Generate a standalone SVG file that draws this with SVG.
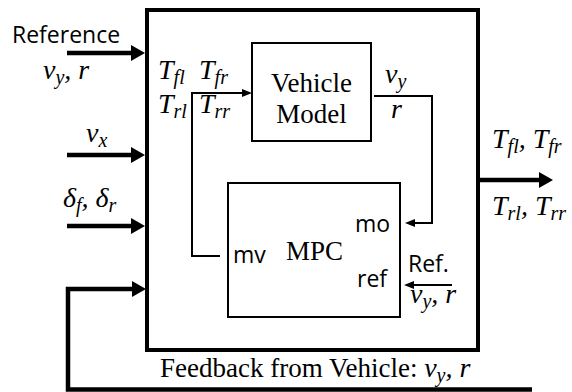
<svg xmlns="http://www.w3.org/2000/svg" width="572" height="392" viewBox="0 0 572 392">
  <defs>
    <style>
      .box { fill: #fff; stroke: #000; }
      .thick { fill: none; stroke: #000; stroke-width: 4.5; }
      .thin { fill: none; stroke: #000; stroke-width: 2; }
      .sans { font-family: "Open Sans", "Liberation Sans", sans-serif; font-size: 23px; fill: #000; }
      .serif { font-family: "Liberation Serif", "Times New Roman", serif; font-size: 27px; fill: #000; }
      .math { font-family: "Liberation Serif", "Times New Roman", serif; font-style: italic; font-size: 28px; fill: #000; }
      .sub { font-size: 20px; }
    </style>
    <marker id="headBig" viewBox="0 0 14 16" refX="1" refY="8" markerWidth="14" markerHeight="16" markerUnits="userSpaceOnUse" orient="auto">
      <path d="M0,0 L14,8 L0,16 z" fill="#000"/>
    </marker>
    <marker id="headSmall" viewBox="0 0 10 8" refX="1" refY="4" markerWidth="10" markerHeight="8" markerUnits="userSpaceOnUse" orient="auto">
      <path d="M0,0 L10,4 L0,8 z" fill="#000"/>
    </marker>
  </defs>

  <!-- controller block -->
  <g id="controller">
    <rect class="box" x="147" y="10" width="331" height="340" stroke-width="4"/>
  </g>

  <!-- vehicle model -->
  <g id="vehicle-model">
    <rect class="box" x="252" y="43" width="119" height="98" stroke-width="2"/>
    <text class="serif" x="311.5" y="92" text-anchor="middle">Vehicle</text>
    <text class="serif" x="311.5" y="123" text-anchor="middle">Model</text>
  </g>

  <!-- MPC block -->
  <g id="mpc">
    <rect class="box" x="228" y="183" width="172" height="134" stroke-width="2"/>
    <text class="serif" x="286" y="260">MPC</text>
    <text class="sans" x="233" y="263">mv</text>
    <text class="sans" x="355" y="232">mo</text>
    <text class="sans" x="357" y="287">ref</text>
  </g>

  <!-- connectors -->
  <g id="connectors">
    <path class="thick" d="M67,53 H132" marker-end="url(#headBig)"/>
    <path class="thick" d="M67,155 H132" marker-end="url(#headBig)"/>
    <path class="thick" d="M67,226 H132" marker-end="url(#headBig)"/>
    <path class="thick" d="M532,389.5 H68 V289 H133" marker-end="url(#headBig)"/>
    <path class="thick" d="M480,180 H540" marker-end="url(#headBig)"/>
    <path class="thin" d="M220,256 H192 V93 H243" marker-end="url(#headSmall)"/>
    <path class="thin" d="M374,96 H432 V223 H414" marker-end="url(#headSmall)"/>
    <path class="thin" d="M452,285 H413" marker-end="url(#headSmall)"/>
  </g>

  <!-- signal labels -->
  <g id="labels">
    <text class="sans" x="12" y="43" font-size="24">Reference</text>
    <text class="math" x="43" y="79">v<tspan class="sub" dy="5">y</tspan><tspan dy="-5">, r</tspan></text>
    <text class="math" x="86" y="142">v<tspan class="sub" dy="5">x</tspan></text>
    <text class="math" x="63" y="207">δ<tspan class="sub" dy="5">f</tspan><tspan dy="-5">, δ</tspan><tspan class="sub" dy="5">r</tspan></text>

    <text class="math" x="158" y="79">T<tspan class="sub" dy="5">fl</tspan></text>
    <text class="math" x="199" y="79">T<tspan class="sub" dy="5">fr</tspan></text>
    <text class="math" x="158" y="113">T<tspan class="sub" dy="5">rl</tspan></text>
    <text class="math" x="199" y="113">T<tspan class="sub" dy="5">rr</tspan></text>

    <text class="math" x="385" y="83">v<tspan class="sub" dy="5">y</tspan></text>
    <text class="math" x="391" y="118">r</text>

    <text class="sans" x="408" y="272">Ref.</text>
    <text class="math" x="410" y="303">v<tspan class="sub" dy="5">y</tspan><tspan dy="-5">, r</tspan></text>

    <text class="math" x="492" y="148">T<tspan class="sub" dy="5">fl</tspan><tspan dy="-5">, T</tspan><tspan class="sub" dy="5">fr</tspan></text>
    <text class="math" x="492" y="215">T<tspan class="sub" dy="5">rl</tspan><tspan dy="-5">, T</tspan><tspan class="sub" dy="5">rr</tspan></text>

    <text class="serif" x="160" y="377" font-size="28">Feedback from Vehicle: <tspan class="math">v</tspan><tspan class="math sub" dy="5">y</tspan><tspan class="math" dy="-5">, r</tspan></text>
  </g>
</svg>
